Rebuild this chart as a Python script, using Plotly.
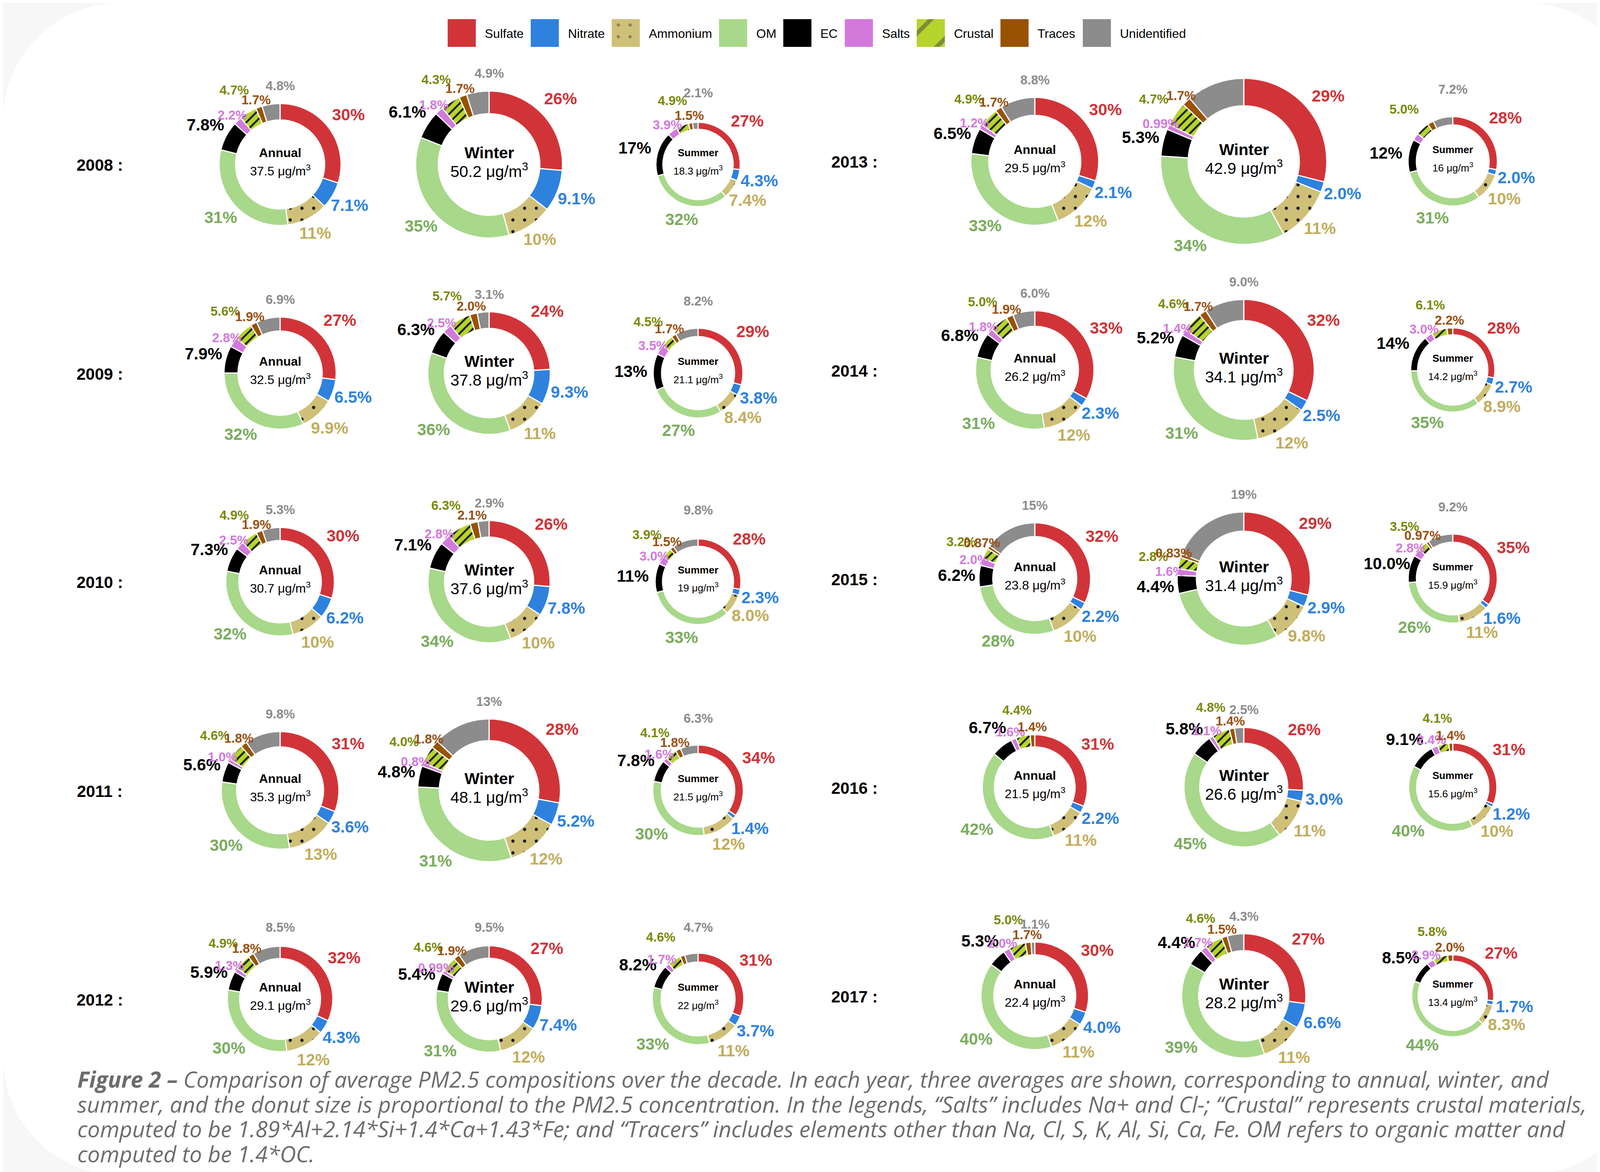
import math
import plotly.graph_objects as go

W, H = 4200, 3000

# ---------------- data ----------------
YEARS = [2008, 2009, 2010, 2011, 2012, 2013, 2014, 2015, 2016, 2017]
SEASONS = ["Annual", "Winter", "Summer"]
COMPONENTS = ["Sulfate", "Nitrate", "Ammonium", "OM", "EC",
              "Salts", "Crustal", "Traces", "Unidentified"]

# PM2.5 concentration (ug/m3), order: year x (Annual, Winter, Summer)
CONC = [37.5, 50.2, 18.3,  32.5, 37.8, 21.1,  30.7, 37.6, 19,
        35.3, 48.1, 21.5,  29.1, 29.6, 22,    29.5, 42.9, 16,
        26.2, 34.1, 14.2,  23.8, 31.4, 15.9,  21.5, 26.6, 15.6,
        22.4, 28.2, 13.4]

# composition, percent
SULFATE = [30, 26, 27,  27, 24, 29,  30, 26, 28,  31, 28, 34,  32, 27, 31,
           30, 29, 28,  33, 32, 28,  32, 29, 35,  31, 26, 31,  30, 27, 27]
NITRATE = [7.1, 9.1, 4.3,  6.5, 9.3, 3.8,  6.2, 7.8, 2.3,  3.6, 5.2, 1.4,  4.3, 7.4, 3.7,
           2.1, 2.0, 2.0,  2.3, 2.5, 2.7,  2.2, 2.9, 1.6,  2.2, 3.0, 1.2,  4.0, 6.6, 1.7]
AMMONIUM = [11, 10, 7.4,  9.9, 11, 8.4,  10, 10, 8.0,  13, 12, 12,  12, 12, 11,
            12, 11, 10,  12, 12, 8.9,  10, 9.8, 11,  11, 11, 10,  11, 11, 8.3]
OM = [31, 35, 32,  32, 36, 27,  32, 34, 33,  30, 31, 30,  30, 31, 33,
      33, 34, 31,  31, 31, 35,  28, 29.7, 26,  42, 45, 40,  40, 39, 44]
EC = [7.8, 6.1, 17,  7.9, 6.3, 13,  7.3, 7.1, 11,  5.6, 4.8, 7.8,  5.9, 5.4, 8.2,
      6.5, 5.3, 12,  6.8, 5.2, 14,  6.2, 4.4, 9.99,  6.7, 5.8, 9.1,  5.3, 4.4, 8.5]
SALTS = [2.2, 1.8, 3.9,  2.8, 2.5, 3.5,  2.5, 2.8, 3.0,  1.0, 0.8, 1.6,  1.3, 0.99, 1.7,
         1.2, 0.99, 2.6,  1.8, 1.4, 3.0,  2.0, 1.6, 2.8,  1.6, 1.1, 2.4,  2.0, 1.7, 2.9]
CRUSTAL = [4.7, 4.3, 4.9,  5.6, 5.7, 4.5,  4.9, 6.3, 3.9,  4.6, 4.0, 4.1,  4.9, 4.6, 4.6,
           4.9, 4.7, 5.0,  5.0, 4.6, 6.1,  3.2, 2.8, 3.5,  4.4, 4.8, 4.1,  5.0, 4.6, 5.8]
TRACES = [1.7, 1.7, 1.5,  1.9, 2.0, 1.7,  1.9, 2.1, 1.5,  1.8, 1.8, 1.8,  1.8, 1.9, 1.6,
          1.7, 1.7, 2.2,  1.9, 1.7, 2.2,  0.87, 0.83, 0.97,  1.4, 1.4, 1.4,  1.7, 1.5, 2.0]
UNIDENTIFIED = [4.8, 4.9, 2.1,  6.9, 3.1, 8.2,  5.3, 2.9, 9.8,  9.8, 13, 6.3,  8.5, 9.5, 4.7,
                8.8, 11.3, 7.2,  6.0, 9.0, 0,  15, 19, 9.2,  0, 2.5, 0,  1.1, 4.3, 0]

SERIES = {"Sulfate": SULFATE, "Nitrate": NITRATE, "Ammonium": AMMONIUM, "OM": OM,
          "EC": EC, "Salts": SALTS, "Crustal": CRUSTAL, "Traces": TRACES,
          "Unidentified": UNIDENTIFIED}

# labels that are not printed in the original
HIDDEN = {(2013, "Winter", "Unidentified"), (2013, "Summer", "Salts"),
          (2013, "Summer", "Traces"), (2015, "Winter", "OM"),
          (2012, "Summer", "Traces")}

CAPTION_LINES = [
    "<b>Figure 2 –</b> Comparison of average PM2.5 compositions over the decade. In each year, three averages are shown, corresponding to annual, winter, and",
    "summer, and the donut size is proportional to the PM2.5 concentration. In the legends, “Salts” includes Na+ and Cl-; “Crustal” represents crustal materials,",
    "computed to be 1.89*Al+2.14*Si+1.4*Ca+1.43*Fe; and “Tracers” includes elements other than Na, Cl, S, K, Al, Si, Ca, Fe. OM refers to organic matter and",
    "computed to be 1.4*OC.",
]

# ---------------- styles ----------------
SLICE_COLORS = {"Sulfate": "#d13438", "Nitrate": "#2e82de", "Ammonium": "#cfc078",
                "OM": "#a8d88a", "EC": "#000000", "Salts": "#d479dc",
                "Crustal": "#b6d42c", "Traces": "#995200", "Unidentified": "#8c8c8c"}
LABEL_COLORS = {"Sulfate": "#d13438", "Nitrate": "#2e82de", "Ammonium": "#c2ad5c",
                "OM": "#7aad5e", "EC": "#000000", "Salts": "#d479dc",
                "Crustal": "#7a8a0a", "Traces": "#9a5010", "Unidentified": "#8c8c8c"}
PATTERNS = {"Ammonium": ".", "Crustal": "/"}
BIG = {"Sulfate", "Nitrate", "Ammonium", "OM", "EC"}
FONT = "Liberation Sans, Arial, sans-serif"
CAPTION_FONT = "Open Sans, Lato, sans-serif"

LEFT_X0, RIGHT_X0, COL_DX = 709, 2641, 535
LEFT_Y0, RIGHT_Y0, ROW_DY = 413, 405, 534
CENTER_FONT = {"Annual": 32, "Winter": 41, "Summer": 26}


def radius(c, right):
    return 56 + 3.65 * c if right else 62 + 2.51 * c


def fmt(v):
    if v >= 10:
        s = f"{v:.0f}"
    elif v >= 1:
        s = f"{v:.1f}"
    else:
        s = f"{v:.2f}".rstrip("0")
    return s + "%"


def px(x, y):
    return x / W, 1 - y / H


def note(x, y, text, size, color="#000000", family=FONT, **kw):
    xx, yy = px(x, y)
    d = dict(x=xx, y=yy, xref="paper", yref="paper", text=text, showarrow=False,
             xanchor="center", yanchor="middle",
             font=dict(family=family, size=size, color=color))
    d.update(kw)
    return d


fig = go.Figure()
ann = []

for yi, year in enumerate(YEARS):
    right = yi >= 5
    row = yi % 5
    y_row = (RIGHT_Y0 if right else LEFT_Y0) + row * ROW_DY
    x_first = RIGHT_X0 if right else LEFT_X0
    ann.append(note(x_first - 462, y_row + 2, f"<b>{year} :</b>", 42))
    for si, season in enumerate(SEASONS):
        k = yi * 3 + si
        c = CONC[k]
        cx = x_first + si * COL_DX
        cy = y_row
        r = radius(c, right)
        comps = [cp for cp in COMPONENTS if SERIES[cp][k] > 0]
        vals = [SERIES[cp][k] for cp in comps]
        total = sum(vals)
        fig.add_trace(go.Pie(
            values=vals, labels=comps, sort=False, direction="clockwise", rotation=0,
            hole=0.5 + 36.0 / r,
            domain=dict(x=[(cx - r) / W, (cx + r) / W],
                        y=[1 - (cy + r) / H, 1 - (cy - r) / H]),
            marker=dict(colors=[SLICE_COLORS[cp] for cp in comps],
                        line=dict(color="white", width=3),
                        pattern=dict(shape=[PATTERNS.get(cp, "") for cp in comps],
                                     fgcolor=["#1e1e1e"] * len(comps),
                                     bgcolor=[SLICE_COLORS[cp] for cp in comps],
                                     size=[30 if cp == "Ammonium" else 16 for cp in comps],
                                     solidity=[0.06 if cp == "Ammonium" else 0.3 for cp in comps],
                                     fillmode="replace")),
            textinfo="none", hoverinfo="skip", showlegend=False))
        fs = CENTER_FONT[season]
        ann.append(note(cx, cy - 30, f"<b>{season}</b>", fs))
        ann.append(note(cx, cy + 15, f"{c:g} μg/m<sup>3</sup>", fs))
        cum = 0.0
        for cp, v in zip(comps, vals):
            mid = (cum + v / 2) / total * 360.0
            cum += v
            if (year, season, cp) in HIDDEN:
                continue
            t = math.radians(mid)
            if cp == "Unidentified":
                t, d = 0.0, max(r + 45, 184)
            elif cp in BIG:
                d = r + 45 + 10 * math.cos(t) + 12 * abs(math.sin(t))
            elif cp == "Crustal":
                d = r + 68
            else:
                d = r + 20
            ann.append(note(cx + d * math.sin(t), cy - d * math.cos(t), f"<b>{fmt(v)}</b>",
                            42 if cp in BIG else 33, LABEL_COLORS[cp]))

# ---------------- legend (swatches as bars on a hidden pixel axis) ----------------
AW = {'S': 667, 'u': 556, 'l': 222, 'f': 278, 'a': 556, 't': 278, 'e': 556, 'N': 722,
      'i': 222, 'r': 333, 'A': 667, 'm': 833, 'o': 556, 'n': 556, 'O': 778, 'M': 833,
      'E': 667, 'C': 722, 's': 500, 'c': 500, 'T': 611, 'U': 722, 'd': 556}
LEG_FS, SW, GAP1, GAP2 = 32, 72, 21, 20


def tw(s):
    return sum(AW.get(ch, 556) for ch in s) / 1000 * LEG_FS


total_w = sum(SW + GAP1 + tw(cp) + GAP2 for cp in COMPONENTS) - GAP2
x = 2082 - total_w / 2
leg_centres = []
for cp in COMPONENTS:
    leg_centres.append(x + SW / 2)
    ann.append(note(x + SW + GAP1, 78, cp, LEG_FS, xanchor="left"))
    x += SW + GAP1 + tw(cp) + GAP2

fig.add_trace(go.Bar(
    x=leg_centres, y=[1] * len(COMPONENTS), width=[SW] * len(COMPONENTS),
    marker=dict(color=[SLICE_COLORS[cp] for cp in COMPONENTS], line=dict(width=0),
                pattern=dict(shape=[PATTERNS.get(cp, "") for cp in COMPONENTS],
                             size=[30 if cp == "Ammonium" else 60 for cp in COMPONENTS],
                             solidity=[0.06 if cp == "Ammonium" else 0.18 for cp in COMPONENTS],
                             fillmode="overlay")),
    xaxis="x", yaxis="y", showlegend=False, hoverinfo="skip"))

# ---------------- caption (one annotation per line, 64 px line pitch) ----------------
for i, ln in enumerate(CAPTION_LINES):
    ann.append(note(188, 2754 + 63.5 * i, f"<i>{ln}</i>", 57, "#6e6b6b",
                    family=CAPTION_FONT, xanchor="left", align="left"))

# ---------------- rounded white card ----------------
rx, ry, kk = 300 / W, 300 / H, 0.5523
path = (f"M {rx},0 L {1-rx},0 C {1-rx+kk*rx},0 1,{ry-kk*ry} 1,{ry} "
        f"L 1,{1-ry} C 1,{1-ry+kk*ry} {1-rx+kk*rx},1 {1-rx},1 "
        f"L {rx},1 C {rx-kk*rx},1 0,{1-ry+kk*ry} 0,{1-ry} "
        f"L 0,{ry} C 0,{ry-kk*ry} {rx-kk*rx},0 {rx},0 Z")

fig.update_layout(
    width=W, height=H, margin=dict(l=0, r=0, t=0, b=0),
    paper_bgcolor="#f7f7f7", plot_bgcolor="rgba(0,0,0,0)",
    xaxis=dict(domain=[0, 1], range=[0, W], visible=False, fixedrange=True),
    yaxis=dict(domain=[1 - 112 / H, 1 - 41 / H], range=[0, 1], visible=False, fixedrange=True),
    shapes=[dict(type="path", xref="paper", yref="paper", path=path,
                 fillcolor="white", line=dict(width=0), layer="below")],
    annotations=ann, showlegend=False,
)

fig.write_html("out.html")
